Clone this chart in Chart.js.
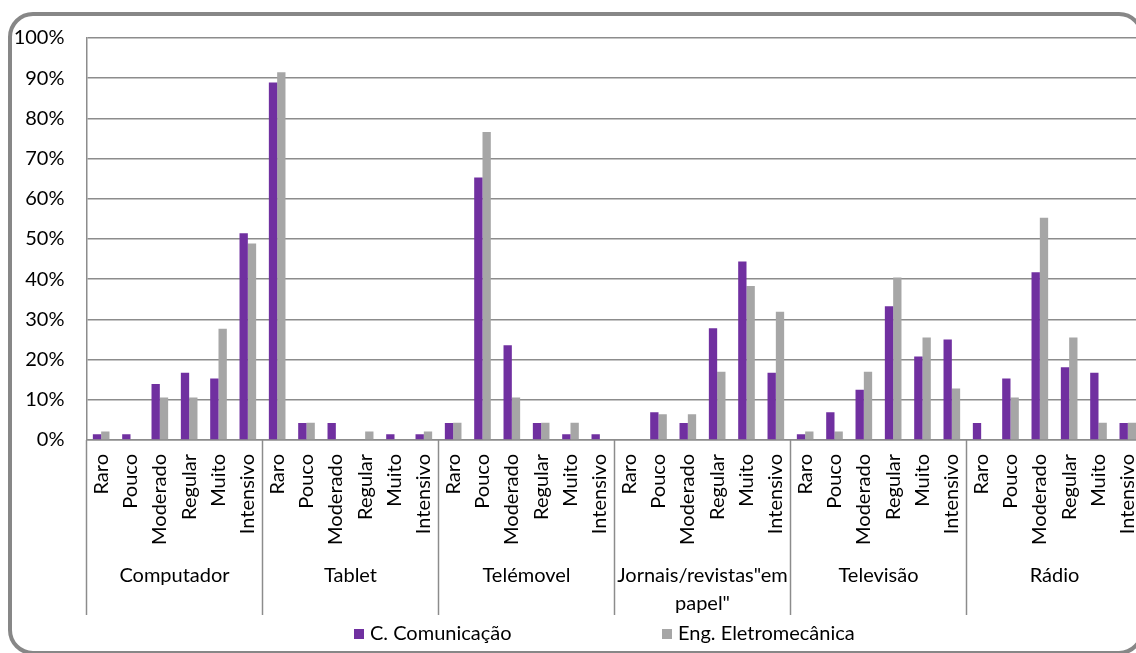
<!DOCTYPE html>
<html lang="pt">
<head>
<meta charset="utf-8">
<title>Frequência de utilização por meio</title>
<script src="https://cdn.jsdelivr.net/npm/chart.js@4.4.1/dist/chart.umd.min.js"></script>
<style>
  html, body { margin: 0; padding: 0; background: #fff; overflow: hidden; width: 1136px; height: 653px; }
  .frame {
    position: absolute; left: 8px; top: 12px; width: 1136px; height: 643px;
    box-sizing: border-box; border: 4.5px solid #878787; border-radius: 25px; background: #fff;
  }
  #chart { position: absolute; left: 0; top: 0; }
</style>
</head>
<body>
<div class="frame"></div>
<canvas id="chart" width="1166" height="653"></canvas>
<script>
// Meios e níveis de utilização
const groups = ['Computador', 'Tablet', 'Telémovel', ['Jornais/revistas"em', 'papel"'], 'Televisão', 'Rádio'];
const levels = ['Raro', 'Pouco', 'Moderado', 'Regular', 'Muito', 'Intensivo'];

// Percentagens por curso (seis níveis por meio, na ordem de "groups")
const comunicacao = [
  1.4, 1.4, 13.9, 16.7, 15.3, 51.4,
  88.9, 4.2, 4.2, 0, 1.4, 1.4,
  4.2, 65.3, 23.6, 4.2, 1.4, 1.4,
  0, 6.9, 4.2, 27.8, 44.4, 16.7,
  1.4, 6.9, 12.5, 33.3, 20.8, 25.0,
  4.2, 15.3, 41.7, 18.1, 16.7, 4.2
];
const eletromecanica = [
  2.1, 0, 10.6, 10.6, 27.7, 48.9,
  91.5, 4.3, 0, 2.1, 0, 2.1,
  4.3, 76.6, 10.6, 4.3, 4.3, 0,
  0, 6.4, 6.4, 17.0, 38.3, 31.9,
  2.1, 2.1, 17.0, 40.4, 25.5, 12.8,
  0, 10.6, 55.3, 25.5, 4.3, 4.3
];
const seriesNames = ['C. Comunicação', 'Eng. Eletromecânica'];
const yTicks = [0, 10, 20, 30, 40, 50, 60, 70, 80, 90, 100];

const labels = groups.flatMap(() => levels);
const FONT = 'Lato';
const LINE = '#8c8c8c';

// Second-level category labels with separators under the x axis
const groupAxis = {
  id: 'groupAxis',
  afterDraw(chart, args, opts) {
    const { ctx, scales: { x } } = chart;
    const half = (x.getPixelForValue(1) - x.getPixelForValue(0)) / 2;
    const n = levels.length;
    ctx.save();
    ctx.strokeStyle = LINE;
    ctx.lineWidth = 1.5;
    for (let k = 0; k <= groups.length; k++) {
      const px = k < groups.length ? x.getPixelForValue(k * n) - half
                                   : x.getPixelForValue(k * n - 1) + half;
      ctx.beginPath();
      ctx.moveTo(px, x.top);
      ctx.lineTo(px, opts.lineBottom);
      ctx.stroke();
    }
    ctx.fillStyle = '#000';
    ctx.font = `${opts.size}px ${FONT}`;
    ctx.textAlign = 'center';
    ctx.textBaseline = 'middle';
    groups.forEach((g, k) => {
      const cx = (x.getPixelForValue(k * n) + x.getPixelForValue(k * n + n - 1)) / 2;
      const lines = Array.isArray(g) ? g : [g];
      lines.forEach((t, i) => ctx.fillText(t, cx, opts.textY + i * opts.lineGap));
    });
    ctx.restore();
  }
};

// Legend with fixed column spacing
const boxLegend = {
  id: 'boxLegend',
  afterDraw(chart, args, opts) {
    const { ctx } = chart;
    ctx.save();
    ctx.font = `${opts.size}px ${FONT}`;
    ctx.textBaseline = 'middle';
    ctx.textAlign = 'left';
    chart.data.datasets.forEach((ds, i) => {
      const x0 = opts.x + i * opts.column;
      ctx.fillStyle = ds.backgroundColor;
      ctx.fillRect(x0, opts.y - opts.box / 2, opts.box, opts.box);
      ctx.fillStyle = '#000';
      ctx.fillText(ds.label, x0 + opts.box + 6, opts.y);
    });
    ctx.restore();
  }
};

new Chart(document.getElementById('chart'), {
  type: 'bar',
  data: {
    labels,
    datasets: [
      { label: seriesNames[0], data: comunicacao, backgroundColor: '#7030a0' },
      { label: seriesNames[1], data: eletromecanica, backgroundColor: '#a6a6a6' }
    ]
  },
  options: {
    responsive: false,
    animation: false,
    events: [],
    layout: { padding: { top: 38, right: 12, bottom: 0, left: 0 } },
    datasets: { bar: { categoryPercentage: 0.567, barPercentage: 1 } },
    plugins: {
      legend: { display: false },
      tooltip: { enabled: false },
      groupAxis: { textY: 576, lineGap: 28, lineBottom: 615, size: 20 },
      boxLegend: { x: 354, column: 308, y: 634, box: 10, size: 20 }
    },
    scales: {
      x: {
        grid: { display: false, drawTicks: false },
        border: { display: true, color: LINE, width: 1.5 },
        ticks: {
          autoSkip: false, minRotation: 90, maxRotation: 90, padding: 14,
          color: '#000', font: { family: FONT, size: 20 }
        },
        afterFit(scale) { scale.height = 213; }
      },
      y: {
        min: 0, max: 100,
        afterBuildTicks(scale) { scale.ticks = yTicks.map(v => ({ value: v })); },
        grid: { color: LINE, lineWidth: 1.5, drawTicks: false },
        border: { display: true, color: LINE, width: 1.5 },
        ticks: {
          padding: 22, color: '#000', font: { family: FONT, size: 20 },
          callback: v => v + '%'
        },
        afterFit(scale) { scale.width = 86.5; }
      }
    }
  },
  plugins: [groupAxis, boxLegend]
});
</script>
</body>
</html>
